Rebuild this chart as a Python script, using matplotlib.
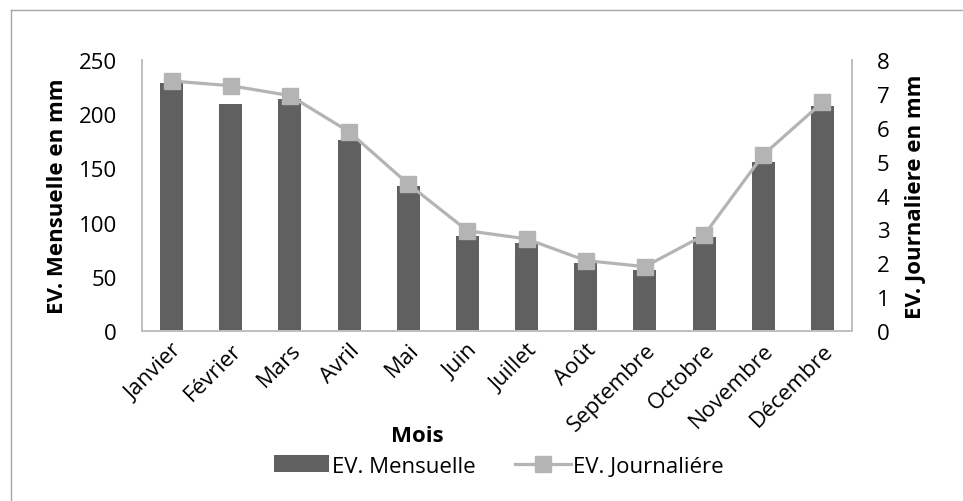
import matplotlib.pyplot as plt
from matplotlib.lines import Line2D

plt.rcParams['font.family'] = ['Open Sans', 'DejaVu Sans']

mois = ['Janvier', 'Février', 'Mars', 'Avril', 'Mai', 'Juin', 'Juillet',
        'Août', 'Septembre', 'Octobre', 'Novembre', 'Décembre']
ev_mensuelle = [229, 209, 214, 176, 134, 88, 81, 63, 56, 87, 156, 208]
ev_journaliere = [7.38, 7.24, 6.95, 5.88, 4.34, 2.96, 2.72, 2.08, 1.90, 2.83, 5.20, 6.75]

bar_color = '#606060'
line_color = '#b4b4b4'
axis_color = '#bfbfbf'
fs = 16

fig = plt.figure(figsize=(9.63, 5.02), dpi=100)
ax = fig.add_axes([0.1475, 0.3386, 0.7372, 0.5399])
ax2 = ax.twinx()

x = list(range(len(mois)))
bars = ax.bar(x, ev_mensuelle, width=0.39, color=bar_color, label='EV. Mensuelle', zorder=2)
line, = ax2.plot(x, ev_journaliere, color=line_color, lw=2.3, marker='s', markersize=11,
                 markerfacecolor=line_color, markeredgecolor=line_color, label='EV. Journaliére', zorder=3)

ax.set_xlim(-0.5, len(mois) - 0.5)
ax.set_ylim(0, 250)
ax2.set_ylim(0, 8)
ax.set_yticks([0, 50, 100, 150, 200, 250])
ax2.set_yticks(range(0, 9))

for a in (ax, ax2):
    a.spines['top'].set_visible(False)
    for s in ('left', 'right', 'bottom'):
        a.spines[s].set_color(axis_color)
        a.spines[s].set_linewidth(1.2)
    a.tick_params(length=0, labelsize=fs, colors='black')
ax.tick_params(axis='y', pad=18)
ax2.tick_params(axis='y', pad=18)

ax.set_xticks(x)
ax.set_xticklabels(mois, rotation=45, ha='right', rotation_mode='anchor', fontsize=fs)
ax.tick_params(axis='x', pad=6)

ax.set_ylabel('EV. Mensuelle en mm', fontsize=fs, fontweight='bold', labelpad=8)
ax2.set_ylabel('EV. Journaliere en mm', fontsize=fs, fontweight='bold', labelpad=11)
fig.text(0.433, 1 - 437 / 502, 'Mois', fontsize=fs, fontweight='bold', ha='center', va='center')

fig.legend(handles=[bars, line], loc='center', ncol=2, bbox_to_anchor=(0.518, 1 - 467 / 502),
           frameon=False, fontsize=fs, handlelength=2.5, handleheight=0.8, handletextpad=0.1,
           columnspacing=1.8)

# border of the chart area (only left and top visible)
fig.add_artist(Line2D([11 / 963, 11 / 963], [0, 1 - 11 / 502], color='#a6a6a6', lw=1, transform=fig.transFigure))
fig.add_artist(Line2D([11 / 963, 1], [1 - 11 / 502, 1 - 11 / 502], color='#a6a6a6', lw=1, transform=fig.transFigure))

fig.savefig('out.png', dpi=100)
